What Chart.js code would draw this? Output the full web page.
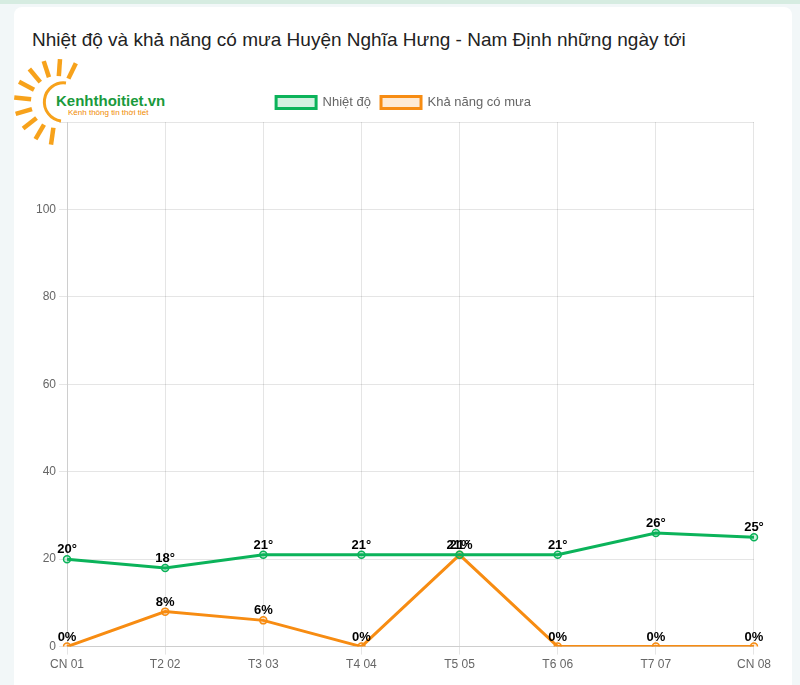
<!DOCTYPE html>
<html>
<head>
<meta charset="utf-8">
<script src="https://cdn.jsdelivr.net/npm/chart.js@4.4.0/dist/chart.umd.min.js"></script>
<style>
  body { margin: 0; background: #f2f7f8; font-family: Arial, "Liberation Sans", sans-serif; }
  .topbar { position: absolute; left: 0; top: 0; width: 800px; height: 4px; background: #d6ece1; }
  .card { position: absolute; left: 14px; top: 7px; width: 778px; height: 700px; background: #fff; border-radius: 8px; }
  h2 { position: absolute; left: 32px; top: 29px; margin: 0; font-size: 19px; font-weight: normal; color: #222; }
  .logo { position: absolute; left: 14px; top: 58px; }
  .wrap { position: absolute; left: 33px; top: 86px; width: 741px; height: 589px; }
</style>
</head>
<body>
<div class="topbar"></div>
<div class="card"></div>
<h2>Nhiệt độ và khả năng có mưa Huyện Nghĩa Hưng - Nam Định những ngày tới</h2>
<svg class="logo" id="logo" width="160" height="92" viewBox="0 0 160 92">
  <g id="rays" stroke="#f7a21b" stroke-width="4.5"></g>
  <path d="M52 25 A19 19 0 0 0 47 63" fill="none" stroke="#f7a21b" stroke-width="3"/>
  <text x="42" y="48" font-family="Arial, sans-serif" font-weight="bold" font-size="15" fill="#1a9a3c">Kenhthoitiet.vn</text>
  <text x="54" y="57" font-family="Arial, sans-serif" font-size="8" fill="#f08a00">Kênh thông tin thời tiết</text>
</svg>
<div class="wrap"><canvas id="myChart"></canvas></div>
<script>
// Chart data
const labels = ['CN 01', 'T2 02', 'T3 03', 'T4 04', 'T5 05', 'T6 06', 'T7 07', 'CN 08'];
const nhiet_do = [20, 18, 21, 21, 21, 21, 26, 25];
const kha_nang_mua = [0, 8, 6, 0, 21, 0, 0, 0];
const y_ticks_max = 120;

// sun rays of the logo
const rays = document.getElementById('rays');
for (let a = -64; a >= -262; a -= 22) {
    const r = a * Math.PI / 180;
    const l = document.createElementNS('http://www.w3.org/2000/svg', 'line');
    l.setAttribute('x1', 43 + 26 * Math.cos(r));
    l.setAttribute('y1', 44 + 26 * Math.sin(r));
    l.setAttribute('x2', 43 + 43 * Math.cos(r));
    l.setAttribute('y2', 44 + 43 * Math.sin(r));
    rays.appendChild(l);
}

// a bit more room under the legend
const legendGap = {
    id: 'legendGap',
    beforeInit(chart) {
        const fit = chart.legend.fit;
        chart.legend.fit = function () {
            fit.call(this);
            this.height += 3;
        };
    }
};

// Draw the value over each point
const valueLabels = {
    id: 'valueLabels',
    afterDatasetsDraw(chart) {
        const ctx = chart.ctx;
        ctx.save();
        ctx.font = 'bold 13px Arial, "Liberation Sans", sans-serif';
        ctx.fillStyle = '#000';
        ctx.textAlign = 'center';
        ctx.textBaseline = 'bottom';
        chart.data.datasets.forEach((ds, i) => {
            const meta = chart.getDatasetMeta(i);
            meta.data.forEach((pt, j) => {
                ctx.fillText(ds.data[j] + ds.suffix, pt.x, pt.y - 3);
            });
        });
        ctx.restore();
    }
};

const ctx = document.getElementById('myChart');

const myChart = new Chart(ctx, {
    type: 'line',
    data: {
        labels: labels,
        datasets: [{
            label: 'Nhiệt độ',
            suffix: '°',
            data: nhiet_do,
            borderColor: '#0bb35a',
            backgroundColor: 'rgba(11,179,90,0.18)',
            pointBackgroundColor: 'rgba(11,179,90,0.18)',
            borderWidth: 3,
            pointRadius: 3.5,
            pointBorderWidth: 1.5,
            tension: 0
        }, {
            label: 'Khả năng có mưa',
            suffix: '%',
            data: kha_nang_mua,
            borderColor: '#f78c12',
            backgroundColor: 'rgba(247,140,18,0.18)',
            pointBackgroundColor: 'rgba(247,140,18,0.18)',
            borderWidth: 3,
            pointRadius: 3.5,
            pointBorderWidth: 1.5,
            tension: 0
        }]
    },
    options: {
        responsive: true,
        maintainAspectRatio: false,
        animation: false,
        plugins: {
            legend: {
                labels: { color: '#666', font: { size: 13 }, boxWidth: 40, boxHeight: 12 }
            },
            tooltip: { enabled: false }
        },
        scales: {
            x: {
                ticks: { color: '#666', font: { size: 12 } }
            },
            y: {
                min: 0,
                max: y_ticks_max,
                ticks: {
                    stepSize: 20,
                    color: '#666',
                    font: { size: 12 },
                    callback: (v) => v === y_ticks_max ? '' : v
                }
            }
        }
    },
    plugins: [legendGap, valueLabels]
});
</script>
</body>
</html>
